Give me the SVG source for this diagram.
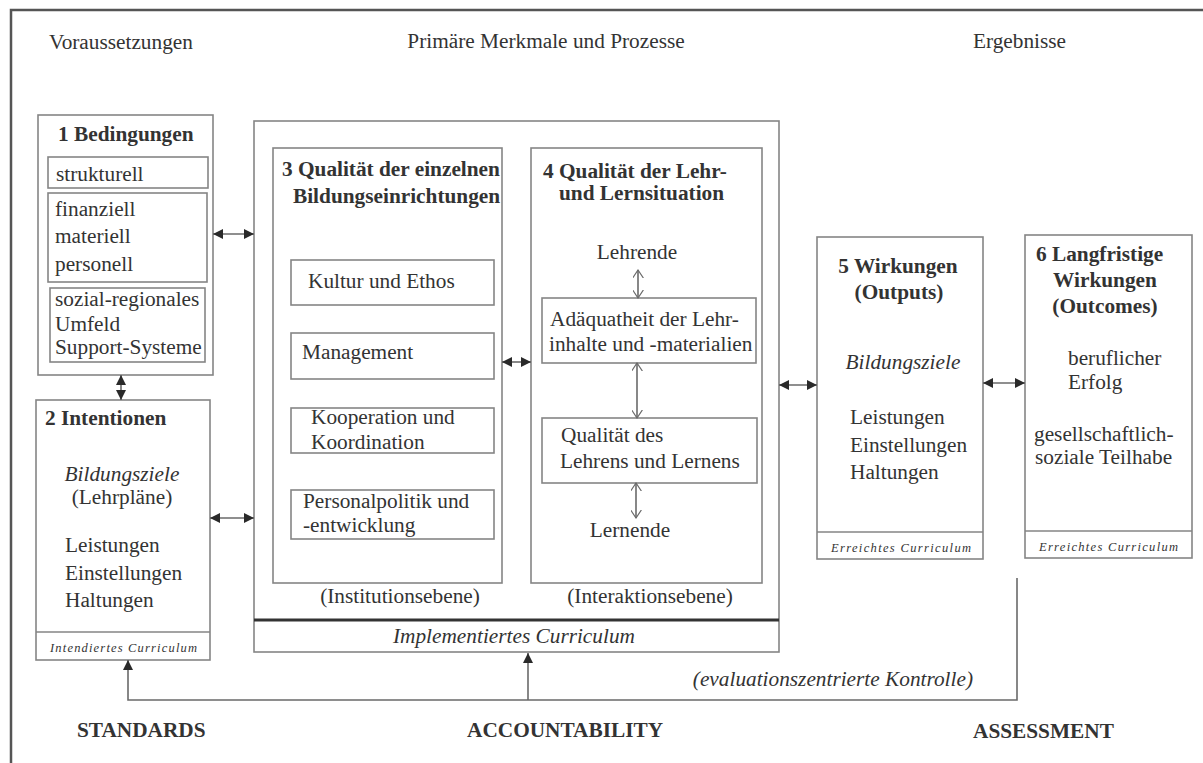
<svg xmlns="http://www.w3.org/2000/svg" width="1203" height="763" viewBox="0 0 1203 763">
<style>
text{font-family:"Liberation Serif","Times New Roman",serif;font-size:21.3px;fill:#333}
.b{font-weight:bold}
.i{font-style:italic}
.s{font-size:12.5px;font-style:italic}
.m{text-anchor:middle}
.box{fill:none;stroke:#858585;stroke-width:1.6}
.con{fill:none;stroke:#6a6a6a;stroke-width:1.6}
</style>
<defs>
<marker id="fa" viewBox="0 0 10 10" refX="10" refY="5" markerWidth="10" markerHeight="10" markerUnits="userSpaceOnUse" orient="auto-start-reverse"><path d="M0,0 L10,5 L0,10 z" fill="#2a2a2a"/></marker>
<marker id="oa" viewBox="0 0 10 12" refX="9" refY="6" markerWidth="9" markerHeight="11" markerUnits="userSpaceOnUse" orient="auto-start-reverse"><path d="M0,0 L9,6 L0,12" fill="none" stroke="#6a6a6a" stroke-width="1.3"/></marker>
</defs>
<rect width="1203" height="763" fill="#fff"/>
<g id="frame"><path d="M11,763 V10 H1203" fill="none" stroke="#555" stroke-width="2.5"/></g>
<g id="headers">
<text x="49" y="49">Voraussetzungen</text>
<text x="546" y="48" class="m">Primäre Merkmale und Prozesse</text>
<text x="973" y="48">Ergebnisse</text>
<text x="77" y="737" class="b">STANDARDS</text>
<text x="467" y="737" class="b">ACCOUNTABILITY</text>
<text x="973" y="738" class="b">ASSESSMENT</text>
</g>
<g id="n1">
<rect class="box" x="38" y="115" width="175" height="260"/>
<text x="58" y="141" class="b">1 Bedingungen</text>
<rect class="box" x="48" y="157" width="160" height="31"/>
<text x="56" y="181">strukturell</text>
<rect class="box" x="48" y="193" width="159" height="89"/>
<text x="55" y="216">finanziell</text>
<text x="55" y="243">materiell</text>
<text x="55" y="271">personell</text>
<rect class="box" x="50" y="288" width="155" height="74"/>
<text x="55" y="306">sozial-regionales</text>
<text x="55" y="331">Umfeld</text>
<text x="55" y="354">Support-Systeme</text>
</g>
<g id="n2">
<rect class="box" x="36" y="400" width="174" height="260"/>
<line class="box" x1="36" y1="632" x2="210" y2="632"/>
<text x="45" y="425" class="b">2 Intentionen</text>
<text x="122" y="481" class="i m">Bildungsziele</text>
<text x="122" y="504" class="m">(Lehrpläne)</text>
<text x="65" y="552">Leistungen</text>
<text x="65" y="580">Einstellungen</text>
<text x="65" y="607">Haltungen</text>
<text x="50" y="652" class="s" textLength="147" lengthAdjust="spacing">Intendiertes Curriculum</text>
</g>
<g id="impl">
<rect class="box" x="254" y="121" width="525" height="531"/>
<line x1="254" y1="620" x2="779" y2="620" stroke="#333" stroke-width="3"/>
<text x="393" y="643" class="i">Implementiertes Curriculum</text>
</g>
<g id="n3">
<rect class="box" x="273" y="148" width="229" height="435"/>
<text x="282" y="176" class="b">3 Qualität der einzelnen</text>
<text x="293" y="203" class="b">Bildungseinrichtungen</text>
<rect class="box" x="291" y="260" width="203" height="45"/>
<text x="308" y="288">Kultur und Ethos</text>
<rect class="box" x="291" y="333" width="203" height="46"/>
<text x="302" y="359">Management</text>
<rect class="box" x="291" y="408" width="203" height="45"/>
<text x="311" y="424">Kooperation und</text>
<text x="311" y="449">Koordination</text>
<rect class="box" x="291" y="490" width="203" height="49"/>
<text x="303" y="508">Personalpolitik und</text>
<text x="303" y="532">-entwicklung</text>
<text x="400" y="603" class="m">(Institutionsebene)</text>
</g>
<g id="n4">
<rect class="box" x="531" y="148" width="231" height="435"/>
<text x="543" y="178" class="b">4 Qualität der Lehr-</text>
<text x="559" y="200" class="b">und Lernsituation</text>
<text x="637" y="259" class="m">Lehrende</text>
<rect class="box" x="542" y="298" width="214" height="65"/>
<text x="550" y="326">Adäquatheit der Lehr-</text>
<text x="549" y="351">inhalte und -materialien</text>
<rect class="box" x="542" y="418" width="215" height="65"/>
<text x="561" y="442">Qualität des</text>
<text x="560" y="468">Lehrens und Lernens</text>
<text x="630" y="537" class="m">Lernende</text>
<text x="650" y="603" class="m">(Interaktionsebene)</text>
</g>
<g id="n5">
<rect class="box" x="817" y="237" width="166" height="322"/>
<line class="box" x1="817" y1="532" x2="983" y2="532"/>
<text x="898" y="273" class="b m">5 Wirkungen</text>
<text x="899" y="299" class="b m">(Outputs)</text>
<text x="903" y="369" class="i m">Bildungsziele</text>
<text x="850" y="424">Leistungen</text>
<text x="850" y="452">Einstellungen</text>
<text x="850" y="479">Haltungen</text>
<text x="831" y="552" class="s" textLength="140" lengthAdjust="spacing">Erreichtes Curriculum</text>
</g>
<g id="n6">
<rect class="box" x="1025" y="235" width="167" height="323"/>
<line class="box" x1="1025" y1="531" x2="1192" y2="531"/>
<text x="1036" y="261" class="b">6 Langfristige</text>
<text x="1105" y="287" class="b m">Wirkungen</text>
<text x="1105" y="313" class="b m">(Outcomes)</text>
<text x="1068" y="365">beruflicher</text>
<text x="1068" y="389">Erfolg</text>
<text x="1034" y="441">gesellschaftlich-</text>
<text x="1035" y="464">soziale Teilhabe</text>
<text x="1039" y="551" class="s" textLength="139" lengthAdjust="spacing">Erreichtes Curriculum</text>
</g>
<g id="connectors">
<line class="con" x1="213" y1="234" x2="254" y2="234" marker-start="url(#fa)" marker-end="url(#fa)"/>
<line class="con" x1="210" y1="518" x2="254" y2="518" marker-start="url(#fa)" marker-end="url(#fa)"/>
<line class="con" x1="121" y1="375" x2="121" y2="400" marker-start="url(#fa)" marker-end="url(#fa)"/>
<line class="con" x1="502" y1="362" x2="531" y2="362" marker-start="url(#fa)" marker-end="url(#fa)"/>
<line class="con" x1="779" y1="385" x2="817" y2="385" marker-start="url(#fa)" marker-end="url(#fa)"/>
<line class="con" x1="983" y1="383" x2="1025" y2="383" marker-start="url(#fa)" marker-end="url(#fa)"/>
<line class="con" x1="638" y1="270" x2="638" y2="298" marker-start="url(#oa)" marker-end="url(#oa)"/>
<line class="con" x1="637" y1="363" x2="637" y2="418" marker-start="url(#oa)" marker-end="url(#oa)"/>
<line class="con" x1="636" y1="483" x2="636" y2="518" marker-start="url(#oa)" marker-end="url(#oa)"/>
<polyline class="con" points="1017,578 1017,700 128,700 128,660" marker-end="url(#fa)"/>
<line class="con" x1="528" y1="700" x2="528" y2="653" marker-end="url(#fa)"/>
<text x="973" y="686" class="i" style="text-anchor:end">(evaluationszentrierte Kontrolle)</text>
</g>
</svg>
